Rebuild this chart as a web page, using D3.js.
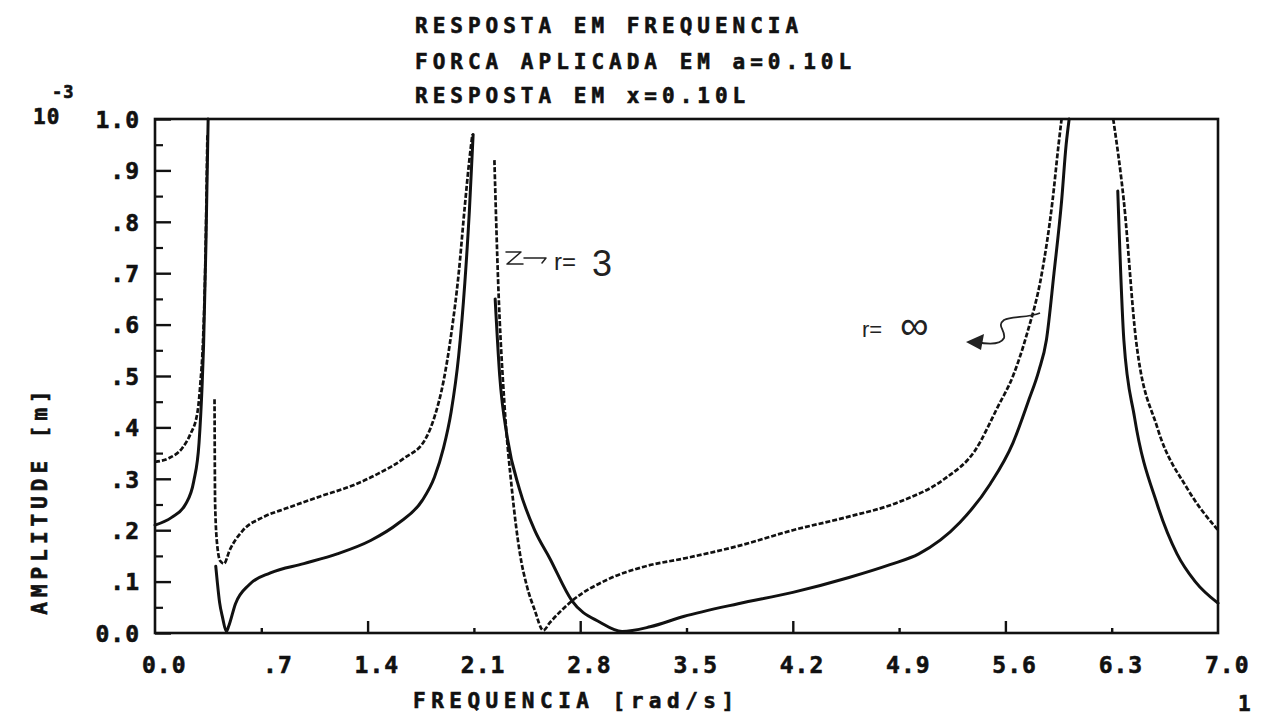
<!DOCTYPE html>
<html>
<head>
<meta charset="utf-8">
<script src="https://cdn.jsdelivr.net/npm/d3@7"></script>
<style>
  html, body { margin: 0; padding: 0; background: #fff; }
  svg { display: block; }
  .plotter { font-family: "DejaVu Sans Mono", "Liberation Mono", monospace; font-weight: bold; fill: #111; stroke: #111; stroke-width: 0.6px; }
  .hand { font-family: "Liberation Sans", "DejaVu Sans", sans-serif; fill: #222; }
</style>
</head>
<body>
<svg id="chart" width="1262" height="716"></svg>
<script>
// Frequency response, r = 3 (dashed) — null marks a break at a resonance
const freqR3 = [0.00, 0.09, 0.18, 0.23, 0.28, 0.30, 0.315, 0.33, 0.345, null,
  0.392, 0.396, 0.41, 0.43, 0.455, 0.49, 0.58, 0.71, 0.87, 1.09, 1.31, 1.47, 1.64, 1.78, 1.84, 1.90, 1.95, 2.00, 2.04, 2.07, 2.09, null,
  2.235, 2.26, 2.30, 2.35, 2.404, 2.45, 2.50, 2.557, 2.60, 2.746, 2.98, 3.22, 3.50, 3.85, 4.20, 4.55, 4.90, 5.20, 5.40, 5.55, 5.65, 5.74, 5.84, 5.91, 5.95, 5.97, null,
  6.31, 6.38, 6.46, 6.60, 6.80, 7.00];
const ampR3 = [0.333, 0.340, 0.360, 0.385, 0.430, 0.490, 0.56, 0.70, 0.97, null,
  0.455, 0.25, 0.17, 0.14, 0.135, 0.16, 0.20, 0.225, 0.243, 0.266, 0.288, 0.31, 0.34, 0.377, 0.42, 0.49, 0.58, 0.70, 0.83, 0.92, 0.97, null,
  0.92, 0.68, 0.45, 0.28, 0.153, 0.09, 0.045, 0.005, 0.02, 0.0625, 0.104, 0.129, 0.146, 0.17, 0.20, 0.225, 0.255, 0.30, 0.355, 0.44, 0.50, 0.58, 0.70, 0.84, 0.95, 1.0, null,
  1.0, 0.84, 0.57, 0.40, 0.28, 0.20];

// Frequency response, r = infinity (solid)
const freqRInf = [0.00, 0.11, 0.20, 0.255, 0.29, 0.31, 0.32, 0.335, 0.35, null,
  0.40, 0.41, 0.425, 0.445, 0.47, 0.485, 0.53, 0.62, 0.76, 0.98, 1.20, 1.42, 1.60, 1.76, 1.84, 1.90, 1.95, 2.00, 2.04, 2.07, 2.095, null,
  2.24, 2.27, 2.32, 2.40, 2.50, 2.60, 2.746, 2.93, 3.076, 3.26, 3.48, 3.84, 4.20, 4.57, 4.84, 5.03, 5.30, 5.50, 5.65, 5.75, 5.82, 5.87, 5.92, 5.97, 6.00, 6.02, null,
  6.34, 6.38, 6.45, 6.60, 6.73, 6.85, 7.00];
const ampRInf = [0.21, 0.225, 0.25, 0.295, 0.37, 0.48, 0.56, 0.75, 1.0, null,
  0.13, 0.10, 0.06, 0.03, 0.003, 0.013, 0.057, 0.094, 0.117, 0.135, 0.154, 0.18, 0.213, 0.258, 0.303, 0.36, 0.43, 0.54, 0.68, 0.82, 0.97, null,
  0.65, 0.50, 0.38, 0.28, 0.20, 0.145, 0.0625, 0.021, 0.003, 0.012, 0.032, 0.057, 0.079, 0.108, 0.133, 0.154, 0.215, 0.29, 0.37, 0.45, 0.51, 0.57, 0.70, 0.84, 0.95, 1.0, null,
  0.86, 0.57, 0.42, 0.25, 0.154, 0.10, 0.058];

const xTicks = [0, 0.7, 1.4, 2.1, 2.8, 3.5, 4.2, 4.9, 5.6, 6.3, 7.0];
const xTickLabels = ["0.0", ".7", "1.4", "2.1", "2.8", "3.5", "4.2", "4.9", "5.6", "6.3", "7.0"];
const yTicks = [0, 0.1, 0.2, 0.3, 0.4, 0.5, 0.6, 0.7, 0.8, 0.9, 1.0];
const yTickLabels = ["0.0", ".1", ".2", ".3", ".4", ".5", ".6", ".7", ".8", ".9", "1.0"];
const yMinorTicks = [0.05, 0.15, 0.25, 0.35, 0.45, 0.55, 0.65, 0.75, 0.85, 0.95];

const titleLines = ["RESPOSTA EM FREQUENCIA", "FORCA APLICADA EM a=0.10L", "RESPOSTA EM x=0.10L"];
const xTitle = "FREQUENCIA [rad/s]";
const yTitle = "AMPLITUDE [m]";

const svg = d3.select("#chart");
const plotLeft = 155, plotRight = 1218, plotTop = 119, plotBottom = 633;

const x = d3.scaleLinear().domain([0, 7]).range([plotLeft, plotRight]);
const y = d3.scaleLinear().domain([0, 1]).range([plotBottom, plotTop]);

// frame
const pen = "#111";
svg.append("rect").attr("x", plotLeft).attr("y", plotTop)
  .attr("width", plotRight - plotLeft).attr("height", plotBottom - plotTop)
  .attr("fill", "none").attr("stroke", pen).attr("stroke-width", 2.6);

// left axis: major ticks with labels, pointing inward
const yAxis = d3.axisLeft(y).tickValues(yTicks).tickSize(-16).tickPadding(15)
  .tickFormat((d, i) => yTickLabels[i]);
const gy = svg.append("g").attr("transform", `translate(${plotLeft},0)`).call(yAxis);
gy.select(".domain").remove();
gy.selectAll(".tick line").attr("stroke", pen).attr("stroke-width", 2.4);
gy.selectAll(".tick text").attr("class", "plotter").style("font-size", "23px")
  .attr("letter-spacing", "1px").attr("dy", "0.36em");

// left axis minor ticks
const yMinor = d3.axisLeft(y).tickValues(yMinorTicks).tickSize(-8).tickFormat("");
const gym = svg.append("g").attr("transform", `translate(${plotLeft},0)`).call(yMinor);
gym.select(".domain").remove();
gym.selectAll(".tick line").attr("stroke", pen).attr("stroke-width", 2.2);

// bottom axis: short inward ticks, taller at multiples of 1.4
const xAxis = d3.axisBottom(x).tickValues(xTicks).tickSize(0).tickPadding(0)
  .tickFormat((d, i) => xTickLabels[i]);
const gx = svg.append("g").attr("transform", `translate(0,${plotBottom})`).call(xAxis);
gx.select(".domain").remove();
gx.selectAll(".tick line")
  .attr("y2", (d, i) => (i > 0 && i < xTicks.length - 1) ? (i % 2 === 0 ? -12 : -5) : 0)
  .attr("stroke", pen).attr("stroke-width", 2.4);
gx.selectAll(".tick text").attr("class", "plotter").style("font-size", "23px")
  .attr("letter-spacing", "1px").attr("text-anchor", "end").attr("x", 31).attr("y", 40).attr("dy", 0);

// curves
function pointsOf(fr, am) {
  return fr.map((f, i) => ({ f, a: am[i] }));
}
const line = d3.line()
  .defined(d => d.f !== null && d.a !== null)
  .x(d => x(d.f)).y(d => y(d.a))
  .curve(d3.curveMonotoneX);

svg.append("path").datum(pointsOf(freqRInf, ampRInf))
  .attr("d", line).attr("fill", "none").attr("stroke", pen)
  .attr("stroke-width", 3).attr("stroke-linejoin", "round").attr("stroke-linecap", "round");

svg.append("path").datum(pointsOf(freqR3, ampR3))
  .attr("d", line).attr("fill", "none").attr("stroke", pen)
  .attr("stroke-width", 2.7).attr("stroke-dasharray", "5,2");

// titles
const tBase = [33, 69, 103];
titleLines.forEach((t, i) => {
  svg.append("text").attr("class", "plotter").attr("x", 415).attr("y", tBase[i])
    .style("font-size", "21px").attr("letter-spacing", "5px").text(t);
});

// axis scale factor
svg.append("text").attr("class", "plotter").attr("x", 33).attr("y", 124)
  .style("font-size", "21px").attr("letter-spacing", "1px").text("10");
svg.append("text").attr("class", "plotter").attr("x", 52).attr("y", 98)
  .style("font-size", "17px").attr("letter-spacing", "1px").text("-3");

// axis titles
svg.append("text").attr("class", "plotter").attr("x", 413).attr("y", 708)
  .style("font-size", "21px").attr("letter-spacing", "5.5px").text(xTitle);
svg.append("text").attr("class", "plotter")
  .attr("transform", "translate(47,500) rotate(-90)").attr("text-anchor", "middle")
  .style("font-size", "21px").attr("letter-spacing", "5px").text(yTitle);

// page number
svg.append("text").attr("class", "plotter").attr("x", 1238).attr("y", 711)
  .style("font-size", "21px").text("1");

// hand-written annotations
svg.append("path").attr("d", "M 506 252 L 521 252 L 507 264 L 523 264 M 524 258 L 546 258 l -4 5")
  .attr("fill", "none").attr("stroke", "#222").attr("stroke-width", 1.5)
  .attr("stroke-linejoin", "round").attr("stroke-linecap", "round");
svg.append("text").attr("class", "hand").attr("x", 554).attr("y", 270)
  .style("font-size", "24px").text("r=");
svg.append("text").attr("class", "hand").attr("x", 592).attr("y", 276)
  .style("font-size", "36px").text("3");

svg.append("text").attr("class", "hand").attr("x", 862).attr("y", 337)
  .style("font-size", "22px").text("r=");
svg.append("text").attr("class", "hand").attr("x", 900).attr("y", 339)
  .style("font-size", "40px").text("\u221E");
svg.append("path").attr("d", "M 976 342 C 986 344, 1000 346, 1004 338 C 1006 330, 996 326, 1004 320 C 1012 316, 1028 318, 1040 313")
  .attr("fill", "none").attr("stroke", "#222").attr("stroke-width", 1.8);
svg.append("path").attr("d", "M 966 342 L 984 334 L 981 350 Z").attr("fill", "#222");
</script>
</body>
</html>
